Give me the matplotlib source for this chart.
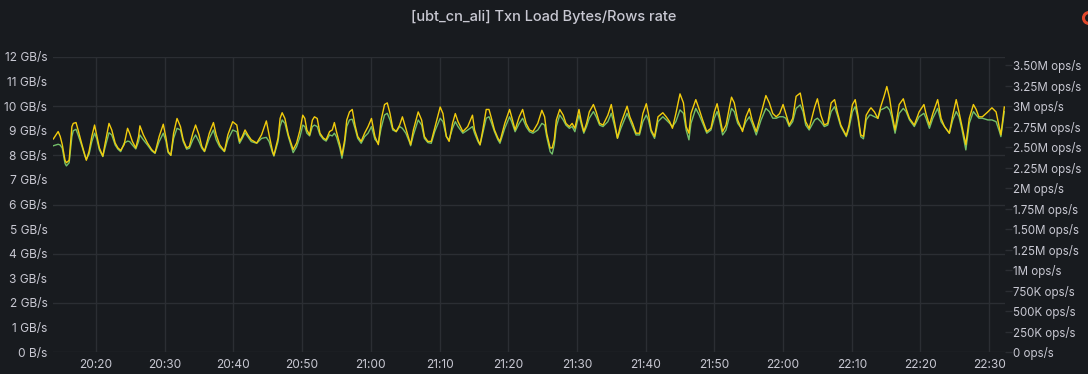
import numpy as np
import pandas as pd
import matplotlib
matplotlib.use("Agg")
import matplotlib.pyplot as plt
import matplotlib.dates as mdates
from matplotlib.patches import Circle
from matplotlib.transforms import IdentityTransform

# minutes after 20:00
minutes = [
    13.8, 14.5, 14.8, 15.1, 15.5, 15.7, 16.1, 16.5, 16.7, 17.1, 17.4, 17.9, 18.4, 18.6, 19.0, 19.4,
    19.8, 20.1, 20.5, 21.0, 21.3, 21.9, 22.3, 22.8, 23.2, 23.6, 24.1, 24.6, 24.9, 25.3, 25.8, 26.2,
    26.4, 26.9, 27.5, 28.1, 28.6, 29.2, 29.8, 30.2, 30.5, 30.9, 31.3, 31.8, 32.3, 32.7, 33.2, 33.6,
    34.1, 34.5, 35.0, 35.4, 35.8, 36.5, 37.1, 37.5, 38.0, 38.7, 39.2, 39.9, 40.5, 40.9, 41.3, 41.7,
    42.1, 42.6, 43.4, 44.1, 44.8, 45.2, 45.7, 45.9, 46.5, 46.8, 47.1, 47.5, 48.0, 48.7, 49.2, 49.7,
    50.1, 50.4, 50.7, 51.1, 51.5, 51.8, 52.2, 52.6, 53.1, 53.5, 54.0, 54.4, 54.7, 55.0, 55.5, 55.8,
    56.2, 56.5, 56.9, 57.3, 57.7, 58.1, 58.6, 59.1, 59.6, 60.1, 60.6, 61.1, 61.5, 62.0, 62.4, 62.8,
    63.2, 63.7, 64.2, 64.6, 65.1, 65.6, 65.8, 66.2, 66.9, 67.4, 67.8, 68.3, 68.8, 69.3, 70.1, 70.5,
    71.0, 71.4, 71.9, 72.3, 72.7, 73.4, 74.1, 74.8, 75.1, 75.6, 75.9, 76.3, 76.8, 77.2, 77.5, 78.0,
    78.5, 78.8, 79.5, 80.2, 80.5, 81.0, 81.6, 82.1, 82.6, 83.1, 83.6, 84.3, 84.9, 85.3, 85.6, 86.1,
    86.4, 86.7, 87.0, 87.5, 88.0, 88.4, 88.9, 89.3, 89.7, 90.3, 90.6, 91.0, 91.4, 91.8, 92.4, 92.8,
    93.3, 93.8, 94.5, 95.0, 95.5, 95.9, 96.4, 97.3, 97.7, 98.1, 98.6, 99.1, 99.6, 100.1, 100.4, 100.8,
    101.3, 101.8, 102.5, 103.0, 103.5, 103.9, 104.4, 105.0, 105.5, 105.9, 106.3, 106.6, 107.3, 107.8,
    108.3, 108.9, 109.5, 110.0, 110.4, 110.7, 111.2, 111.7, 112.2, 112.5, 112.9, 113.4, 114.1, 114.6,
    115.1, 115.5, 116.1, 116.8, 117.5, 118.0, 118.5, 119.0, 119.5, 120.0, 120.4, 120.9, 121.4, 121.9,
    122.5, 122.9, 123.3, 123.8, 124.6, 125.0, 125.5, 126.0, 126.5, 127.0, 127.5, 127.9, 128.4, 129.2,
    129.6, 130.1, 130.5, 130.9, 131.3, 131.7, 132.1, 132.6, 132.8, 133.3, 133.8, 134.2, 134.7, 135.1,
    135.5, 135.8, 136.3, 136.9, 137.5, 137.9, 138.4, 139.1, 139.8, 140.5, 140.8, 141.3, 141.8, 142.5,
    143.0, 143.5, 144.2, 144.7, 145.2, 145.6, 146.0, 146.6, 147.1, 147.7, 148.1, 148.5, 149.0, 149.8,
    150.4, 151.0, 151.5, 151.7, 152.2,
]

# GB/s (left axis)
bytes_gb = [
    8.39, 8.45, 8.42, 8.29, 7.67, 7.57, 7.70, 8.76, 9.00, 9.06, 8.83, 8.42, 7.97, 7.84, 8.05, 8.56,
    8.90, 8.69, 8.22, 7.95, 8.29, 8.92, 8.83, 8.42, 8.25, 8.15, 8.49, 8.58, 8.56, 8.42, 8.26, 8.56,
    8.83, 8.63, 8.42, 8.19, 8.08, 8.56, 8.90, 8.56, 8.11, 8.00, 8.69, 9.10, 9.03, 8.56, 8.25, 8.29,
    8.63, 8.83, 8.56, 8.29, 8.15, 8.69, 9.03, 8.63, 8.35, 8.15, 8.63, 9.03, 8.96, 8.49, 8.69, 8.92,
    8.76, 8.56, 8.49, 8.69, 8.73, 8.56, 8.11, 7.97, 8.56, 9.17, 9.44, 9.30, 8.76, 8.11, 8.35, 8.76,
    9.23, 9.17, 8.90, 8.79, 9.17, 9.23, 9.17, 8.83, 8.65, 8.58, 8.83, 8.79, 8.90, 8.76, 8.29, 7.88,
    8.49, 9.17, 9.44, 9.47, 9.10, 8.69, 8.49, 8.76, 8.90, 9.17, 8.65, 8.49, 9.10, 9.64, 9.71, 9.44,
    9.03, 8.96, 9.17, 9.10, 8.90, 8.56, 8.39, 8.83, 9.44, 9.23, 8.69, 8.52, 8.49, 8.96, 9.51, 9.37,
    8.76, 8.63, 9.10, 9.37, 9.17, 8.90, 9.03, 9.17, 8.90, 8.56, 8.42, 8.90, 9.51, 9.57, 9.37, 8.96,
    8.63, 8.49, 9.10, 9.57, 9.37, 8.96, 9.30, 9.51, 9.17, 8.96, 8.90, 9.03, 9.30, 9.23, 8.76, 8.15,
    8.05, 8.42, 9.17, 9.64, 9.44, 9.23, 9.10, 9.17, 8.96, 9.64, 9.30, 8.90, 9.17, 9.51, 9.78, 9.57,
    9.23, 9.17, 9.37, 9.71, 9.17, 8.69, 9.10, 9.71, 9.44, 9.17, 8.83, 8.83, 9.37, 9.64, 9.44, 8.96,
    8.69, 9.37, 9.57, 9.44, 9.30, 9.17, 9.37, 9.85, 9.71, 9.03, 8.63, 9.30, 9.91, 9.64,
    9.30, 8.90, 9.03, 9.51, 9.78, 9.51, 8.83, 9.03, 9.57, 9.91, 9.78, 9.30, 9.03, 9.37,
    9.57, 9.30, 8.83, 9.44, 9.91, 9.78, 9.51, 9.51, 9.57, 9.57, 9.51, 9.17, 9.37, 9.91,
    10.05, 9.78, 9.23, 9.03, 9.44, 9.51, 9.37, 9.17, 9.23, 9.78, 9.98, 9.64, 9.17, 8.76,
    9.10, 9.78, 9.98, 9.51, 8.76, 8.67, 9.44, 9.64, 9.64, 9.57, 9.51, 9.85, 9.91, 9.98,
    9.85, 9.57, 8.90, 9.71, 9.91, 9.78, 9.44, 9.17, 9.57, 9.71, 9.51, 9.10, 9.51, 9.91,
    9.37, 9.17, 8.90, 9.44, 9.78, 9.57, 9.10, 8.22, 9.30, 9.78, 9.64, 9.51, 9.51, 9.44,
    9.44, 9.37, 8.96, 8.76, 9.78,
]

# M ops/s (right axis)
rows_m = [
    2.60, 2.69, 2.63, 2.53, 2.34, 2.31, 2.34, 2.75, 2.79, 2.80, 2.71, 2.55, 2.40, 2.34, 2.45, 2.63,
    2.77, 2.65, 2.49, 2.39, 2.53, 2.79, 2.71, 2.55, 2.49, 2.46, 2.53, 2.73, 2.67, 2.57, 2.49, 2.63,
    2.76, 2.65, 2.55, 2.47, 2.43, 2.63, 2.78, 2.61, 2.45, 2.40, 2.67, 2.85, 2.75, 2.59, 2.49, 2.51,
    2.67, 2.77, 2.65, 2.51, 2.45, 2.67, 2.80, 2.65, 2.53, 2.45, 2.65, 2.81, 2.77, 2.57, 2.63, 2.71,
    2.65, 2.59, 2.55, 2.65, 2.82, 2.65, 2.45, 2.40, 2.61, 2.85, 2.92, 2.85, 2.65, 2.47, 2.55, 2.71,
    2.89, 2.85, 2.71, 2.65, 2.83, 2.87, 2.85, 2.67, 2.61, 2.59, 2.69, 2.71, 2.80, 2.69, 2.53, 2.40,
    2.59, 2.83, 2.93, 2.96, 2.77, 2.63, 2.57, 2.67, 2.75, 2.85, 2.63, 2.53, 2.83, 3.02, 3.04, 2.91,
    2.73, 2.69, 2.77, 2.87, 2.73, 2.59, 2.53, 2.71, 2.93, 2.83, 2.63, 2.57, 2.57, 2.73, 2.99, 2.91,
    2.63, 2.57, 2.79, 2.91, 2.81, 2.69, 2.75, 2.89, 2.71, 2.59, 2.53, 2.71, 2.96, 2.96, 2.87, 2.71,
    2.61, 2.57, 2.79, 2.96, 2.87, 2.71, 2.87, 2.96, 2.79, 2.71, 2.69, 2.79, 2.95, 2.87, 2.67, 2.49,
    2.49, 2.59, 2.83, 2.96, 2.89, 2.79, 2.75, 2.79, 2.73, 2.96, 2.83, 2.69, 2.79, 2.93, 3.02, 2.93,
    2.79, 2.77, 2.89, 3.02, 2.79, 2.61, 2.79, 3.00, 2.87, 2.79, 2.67, 2.67, 2.91, 3.03, 2.91, 2.71,
    2.63, 2.87, 2.92, 2.87, 2.81, 2.73, 2.91, 3.15, 3.04, 2.75, 2.67, 2.91, 3.08, 2.96,
    2.83, 2.69, 2.73, 2.93, 3.03, 2.91, 2.69, 2.77, 2.99, 3.11, 3.04, 2.83, 2.69, 2.87,
    2.97, 2.83, 2.69, 2.91, 3.13, 3.04, 2.91, 2.87, 2.91, 3.02, 2.91, 2.77, 2.85, 3.12,
    3.16, 2.99, 2.81, 2.73, 2.99, 3.09, 2.89, 2.77, 2.79, 3.04, 3.08, 2.93, 2.77, 2.64,
    2.77, 3.02, 3.08, 2.89, 2.65, 2.63, 2.89, 2.96, 2.98, 2.93, 2.85, 2.99, 3.12, 3.24,
    3.10, 2.93, 2.71, 3.02, 3.09, 2.97, 2.85, 2.77, 2.93, 3.02, 2.91, 2.77, 2.91, 3.08,
    2.85, 2.75, 2.67, 2.89, 3.08, 2.93, 2.77, 2.53, 2.85, 3.02, 2.96, 2.87, 2.87, 2.93,
    2.98, 2.93, 2.73, 2.65, 2.99,
]

left_labels = ["0 B/s"] + [f"{i} GB/s" for i in range(1, 13)]
right_ticks = [0, 0.25, 0.5, 0.75, 1, 1.25, 1.5, 1.75, 2, 2.25, 2.5, 2.75, 3, 3.25, 3.5]
right_labels = ["0 ops/s", "250K ops/s", "500K ops/s", "750K ops/s", "1M ops/s", "1.25M ops/s",
                "1.50M ops/s", "1.75M ops/s", "2M ops/s", "2.25M ops/s", "2.50M ops/s",
                "2.75M ops/s", "3M ops/s", "3.25M ops/s", "3.50M ops/s"]

bg = "#181b1f"
txt = "#c8c8d2"
gridc = "#2b2e33"
plt.rcParams["font.family"] = ["Inter", "DejaVu Sans"]

start = pd.Timestamp("2024-05-20 20:00")
t = start + pd.to_timedelta(minutes, unit="min")

fig = plt.figure(figsize=(10.88, 3.74), dpi=100, facecolor=bg)
ax = fig.add_axes([53 / 1088, 22 / 374, 952 / 1088, 295 / 374], facecolor=bg)
ax2 = ax.twinx()

ax.plot(t, bytes_gb, color="#73bf69", lw=1.0)
ax2.plot(t, rows_m, color="#f2cc0c", lw=1.0)

ax.set_xlim(start + pd.Timedelta(minutes=13.75), start + pd.Timedelta(minutes=152.3))
ax.set_ylim(0, 12)
ax2.set_ylim(0, 3.6)

ax.set_yticks(range(13))
ax.set_yticklabels(left_labels)
ax2.set_yticks(right_ticks)
ax2.set_yticklabels(right_labels)

for v in range(0, 13, 2):
    ax.axhline(v, color=gridc, lw=1.0, zorder=0)
ax.xaxis.set_major_locator(mdates.MinuteLocator(byminute=range(0, 60, 10)))
ax.xaxis.set_major_formatter(mdates.DateFormatter("%H:%M"))
ax.grid(axis="x", color=gridc, lw=1.0)
ax.set_axisbelow(True)

for a in (ax, ax2):
    for s in a.spines.values():
        s.set_visible(False)
ax.tick_params(axis="y", length=0, pad=4, labelsize=8.6, labelcolor=txt)
ax.tick_params(axis="x", length=0, pad=5, labelsize=8.6, labelcolor=txt)
ax2.tick_params(axis="y", length=5, width=1, color=gridc, pad=1, labelsize=8.3, labelcolor=txt)

fig.text(0.5, 1 - 17 / 374, "[ubt_cn_ali] Txn Load Bytes/Rows rate", ha="center", va="center",
         color=txt, fontsize=10.5, fontweight="medium")

fig.add_artist(Circle((1089, 374 - 18), 5.5, transform=IdentityTransform(), fill=False,
                      edgecolor="#e0482c", lw=2.2))

fig.savefig("out.png", dpi=100, facecolor=bg)
